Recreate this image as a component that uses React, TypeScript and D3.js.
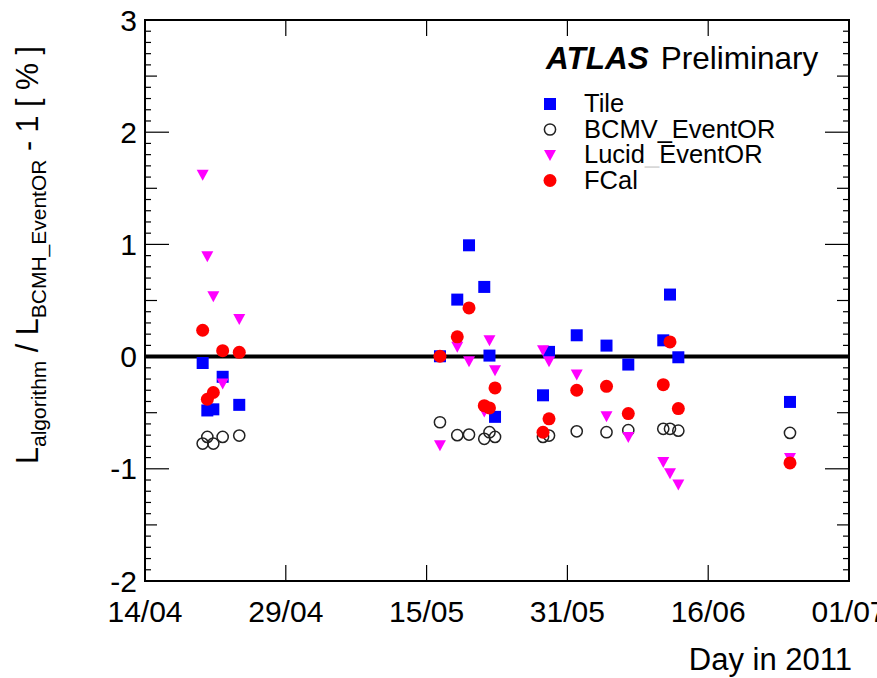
import React from "react";
import * as d3 from "d3";

// Days since 14/04/2011 00:00
const days = [6.68, 7.2, 7.87, 8.91, 10.76, 33.14, 35.07, 36.38, 38.08, 38.66, 39.28, 44.63, 45.3, 48.39, 51.71, 54.14, 58.04, 58.79, 59.72, 72.17];
const tile = [-0.057, -0.48, -0.47, -0.18, -0.43, 0.003, 0.508, 0.992, 0.621, 0.009, -0.537, -0.345, 0.042, 0.19, 0.098, -0.071, 0.145, 0.553, -0.006, -0.404];
const bcmv = [-0.775, -0.716, -0.775, -0.716, -0.704, -0.585, -0.7, -0.695, -0.733, -0.674, -0.716, -0.716, -0.704, -0.666, -0.674, -0.656, -0.644, -0.644, -0.66, -0.68];
const lucid = [1.62, 0.894, 0.537, -0.24, 0.336, -0.79, 0.087, -0.042, -0.49, 0.145, -0.122, 0.056, -0.042, -0.16, -0.532, -0.716, -0.94, -1.04, -1.14, -0.903];
const fcal = [0.235, -0.38, -0.32, 0.053, 0.038, 0.003, 0.176, 0.434, -0.437, -0.457, -0.279, -0.674, -0.555, -0.3, -0.265, -0.508, -0.25, 0.131, -0.463, -0.948];

const xTickLabels = ["14/04", "29/04", "15/05", "31/05", "16/06", "01/07"];
const xDomain = [0.25, 78.75];
const yTickLabels = ["-2", "-1", "0", "1", "2", "3"];
const yDomain = [-2, 3];

const W = 877;
const H = 678;
const L = 145, R = 849, T = 20, B = 581;
const FONT = "'Liberation Sans', Arial, Helvetica, sans-serif";

function Marker({ kind, x, y }: { kind: string; x: number; y: number }) {
  if (kind === "tile") return <rect x={x - 6} y={y - 6} width={12} height={12} fill="#0000ff" />;
  if (kind === "bcmv") return <circle cx={x} cy={y} r={5.6} fill="none" stroke="#222" strokeWidth={1.5} />;
  if (kind === "lucid") return <path d={`M${x - 6},${y - 5}L${x + 6},${y - 5}L${x},${y + 6}Z`} fill="#ff00ff" />;
  return <circle cx={x} cy={y} r={6.5} fill="#ff0000" />;
}

export default function App() {
  const x = d3.scaleLinear().domain(xDomain).range([L, R]);
  const y = d3.scaleLinear().domain(yDomain).range([B, T]);
  const step = (xDomain[1] - xDomain[0]) / (xTickLabels.length - 1);
  const xTicks = xTickLabels.map((_, i) => xDomain[0] + i * step);
  const yMinor = d3.range(Math.round(yDomain[0] * 10), Math.round(yDomain[1] * 10) + 1);

  const series = [
    { kind: "tile", values: tile },
    { kind: "bcmv", values: bcmv },
    { kind: "lucid", values: lucid },
    { kind: "fcal", values: fcal },
  ];

  const legend = [
    { kind: "tile", label: <tspan>Tile</tspan> },
    { kind: "bcmv", label: <tspan>BCMV_EventOR</tspan> },
    { kind: "lucid", label: <><tspan>Lucid</tspan><tspan fill="#d8d8d8">_</tspan><tspan>EventOR</tspan></> },
    { kind: "fcal", label: <tspan>FCal</tspan> },
  ];

  return (
    <svg width={W} height={H} style={{ position: "absolute", left: 0, top: 0, background: "#fff" }} fontFamily={FONT}>
      <rect x={0} y={0} width={W} height={H} fill="#fff" />
      {/* y ticks both sides */}
      {yMinor.map((k) => {
        const v = k / 10;
        const len = k % 10 === 0 ? 24 : k % 5 === 0 ? 12 : 6;
        const yy = y(v);
        return (
          <g key={k}>
            <line x1={L} x2={L + len} y1={yy} y2={yy} stroke="#000" strokeWidth={1.2} />
            <line x1={R} x2={R - len} y1={yy} y2={yy} stroke="#000" strokeWidth={1.2} />
          </g>
        );
      })}
      {/* x ticks */}
      {xTicks.map((t, i) => (
        <g key={i}>
          <line x1={x(t)} x2={x(t)} y1={B} y2={B - 16} stroke="#000" strokeWidth={1.2} />
          <line x1={x(t)} x2={x(t)} y1={T} y2={T + 16} stroke="#000" strokeWidth={1.2} />
          <text x={x(t)} y={622} fontSize={30} textAnchor="middle" fill="#000">{xTickLabels[i]}</text>
        </g>
      ))}
      {yTickLabels.map((lab) => (
        <text key={lab} x={137} y={y(+lab) + 10.5} fontSize={30} textAnchor="end" fill="#000">{lab}</text>
      ))}
      {/* zero line */}
      <line x1={L} x2={R} y1={y(0)} y2={y(0)} stroke="#000" strokeWidth={4} />
      {/* frame */}
      <rect x={L} y={T} width={R - L} height={B - T} fill="none" stroke="#000" strokeWidth={2} />
      {/* points */}
      {series.map((s) => (
        <g key={s.kind}>
          {s.values.map((v, i) => (
            <Marker key={i} kind={s.kind} x={x(days[i])} y={y(v)} />
          ))}
        </g>
      ))}
      {/* ATLAS label */}
      <text x={546} y={69} fontSize={31.5} fill="#000">
        <tspan fontWeight="bold" fontStyle="italic">ATLAS</tspan>
        <tspan dx={12}>Preliminary</tspan>
      </text>
      {/* legend */}
      {legend.map((e, i) => {
        const by = 112 + i * 25.5;
        return (
          <g key={e.kind}>
            <Marker kind={e.kind} x={550} y={by - 8} />
            <text x={584} y={by} fontSize={25.5} fill="#000">{e.label}</text>
          </g>
        );
      })}
      {/* axis titles */}
      <text x={852} y={670} fontSize={31} textAnchor="end" fill="#000">Day in 2011</text>
      <text transform="translate(38,255) rotate(-90)" textAnchor="middle" fontSize={30.5} fill="#000">
        <tspan>L</tspan>
        <tspan fontSize={21} dy={8}>algorithm</tspan>
        <tspan dy={-8}> / L</tspan>
        <tspan fontSize={21} dy={8}>BCMH_EventOR</tspan>
        <tspan dy={-8}> - 1 [ % ]</tspan>
      </text>
    </svg>
  );
}
